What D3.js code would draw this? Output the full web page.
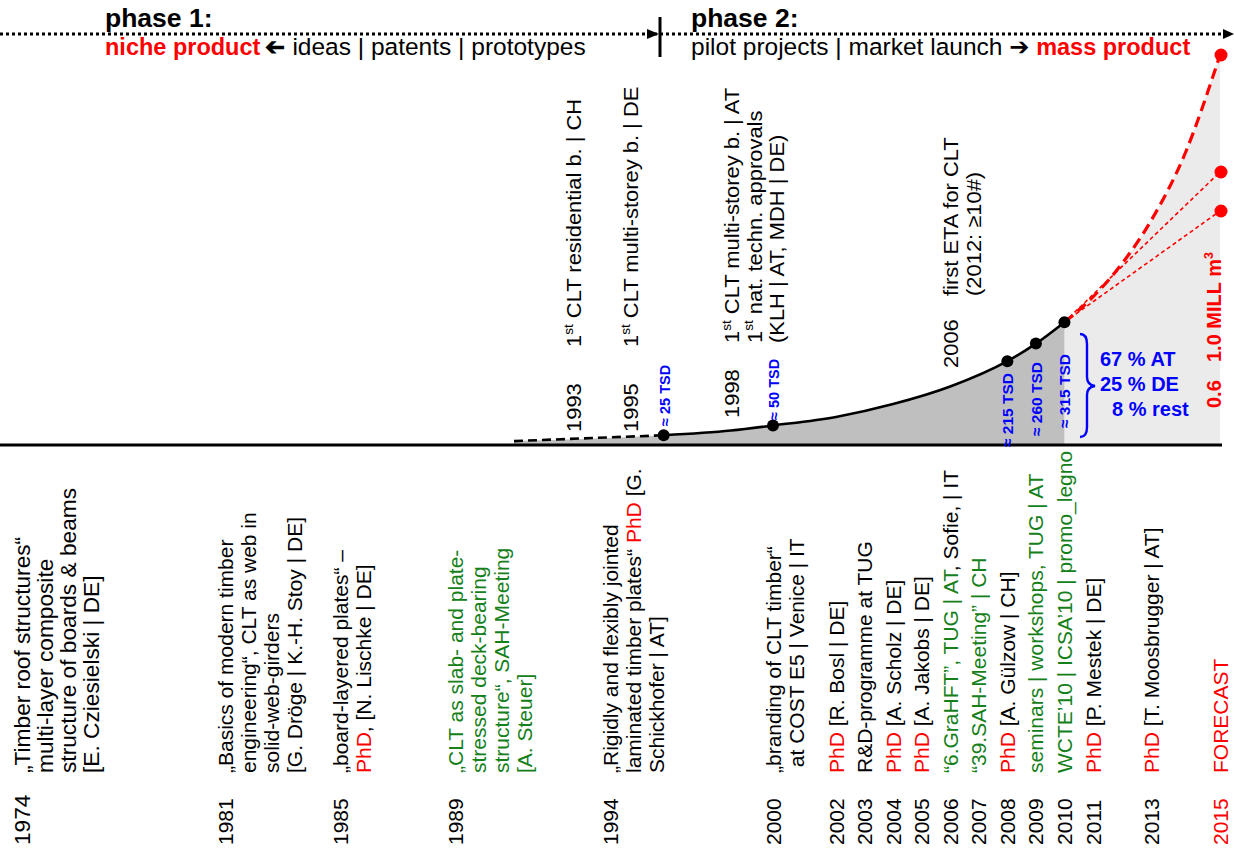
<!DOCTYPE html>
<html><head><meta charset="utf-8">
<script src="https://cdn.jsdelivr.net/npm/d3@7"></script>
<style>
body{margin:0;background:#fff}
svg{display:block}
text{font-family:"Liberation Sans",Arial,Helvetica,sans-serif}
</style>
</head><body>
<svg id="c" width="1234" height="848"></svg>
<script>
// ---------------- DATA ----------------
const productionYears = [1991, 1996, 1998, 2000, 2002, 2004, 2006, 2008, 2009, 2010];
const productionTSD   = [10, 25, 37, 50, 72, 105, 150, 215, 260, 315];
const markedYears  = [1996, 2000, 2008, 2009, 2010];
const markedTSD    = [25, 50, 215, 260, 315];
const markedLabels = ["≈ 25 TSD", "≈ 50 TSD", "≈ 215 TSD", "≈ 260 TSD", "≈ 315 TSD"];
const forecastYears = [2010, 2011, 2012, 2013, 2014, 2015];
const forecastHigh  = [315, 380, 465, 575, 750, 1000];
const forecastEndTSD = [600, 700, 1000];
const forecastLabels = ["0.6", "1.0 MILL m^3"];
const shareLabels = ["67 % AT", "25 % DE", "8 % rest"];

const phaseTitles = ["phase 1:", "phase 2:"];
const phase1Text = ["niche product", "ideas | patents | prototypes"];
const phase2Text = ["pilot projects | market launch", "mass product"];

const upperYears = [1993, 1995, 1998, 2006];
const upperLines = [
  ["1^st CLT residential b. | CH"],
  ["1^st CLT multi-storey b. | DE"],
  ["1^st CLT multi-storey b. | AT", "1^st nat. techn. approvals", "(KLH | AT, MDH | DE)"],
  ["first ETA for CLT", "(2012: ≥10#)"]
];

const bottomYears = [1974, 1981, 1985, 1989, 1994, 2000, 2002, 2003, 2004, 2005, 2006, 2007, 2008, 2009, 2010, 2011, 2013, 2015];
const bottomKinds = ["text","text","text","event","text","text","text","text","text","text","event","event","text","event","event","text","text","forecast"];
const bottomLines = [
  ["„Timber roof structures“", "multi-layer composite", "structure of boards & beams", "[E. Cziesielski | DE]"],
  ["„Basics of modern timber", "engineering“, CLT as web in", "solid-web-girders", "[G. Dröge | K.-H. Stoy | DE]"],
  ["„board-layered plates“ –", "PhD, [N. Lischke | DE]"],
  ["„CLT as slab- and plate-", "stressed deck-bearing", "structure“, SAH-Meeting", "[A. Steuer]"],
  ["„Rigidly and flexibly jointed", "laminated timber plates“ PhD [G.", "Schickhofer | AT]"],
  ["„branding of CLT timber“", "\u00a0at COST E5 | Venice | IT"],
  ["PhD [R. Bosl | DE]"],
  ["R&D-programme at TUG"],
  ["PhD [A. Scholz | DE]"],
  ["PhD [A. Jakobs | DE]"],
  ["“6.GraHFT”, TUG | AT~, Sofie, | IT"],
  ["“39.SAH-Meeting” | CH"],
  ["PhD [A. Gülzow | CH]"],
  ["seminars | workshops, TUG | AT"],
  ["WCTE’10 | ICSA’10 | promo_legno"],
  ["PhD [P. Mestek | DE]"],
  ["PhD [T. Moosbrugger | AT]"],
  ["FORECAST"]
];

// ---------------- LAYOUT ----------------
const slotYears = [1974, 1981, 1985, 1989, 1993, 1994, 1995, 1998, 2000, 2002, 2011, 2013, 2015];
const slotX     = [22,   225,  340,  455,  573,  610,  630,  731,  773,  836,  1093, 1151, 1220];
const baseY = 445;
const RED = "#ff0000", GREEN = "#15801a", BLUE = "#0000ff";
const kindColor = {text: "#000", event: GREEN, forecast: RED};
const upperLayout = [
  {yearY: 432, textY: 347}, {yearY: 432, textY: 347},
  {yearY: 418, textY: 343}, {yearY: 368, textY: 296}
];
const tsdLabelY = [426, 420, 447, 436, 428];
const tsdLabelSize = [14.5, 14.5, 15.5, 15.5, 15.5];
const UPPER_STRETCH = 1.07;
const bottomFont = d => (d === 1974 ? 22.7 : 21);

const svg = d3.select("#c");
const x = d3.scaleLinear().domain(slotYears).range(slotX);
const y = d3.scaleLinear().domain([0, 1000]).range([baseY, 55]);

function rich(sel, str, baseColor, fs) {
  const parts = str.split("~");
  let pendingDy = 0;
  parts.forEach((p, pi) => {
    const col = pi === 0 ? baseColor : "#000";
    p.split(/(PhD|\^\w+)/).forEach(tok => {
      if (!tok) return;
      const ts = sel.append("tspan");
      if (pendingDy) { ts.attr("dy", pendingDy); pendingDy = 0; }
      if (tok === "PhD") ts.attr("fill", RED).text(tok);
      else if (tok[0] === "^") {
        ts.attr("font-size", fs * 0.62).attr("dy", -fs * 0.4).attr("fill", col).text(tok.slice(1));
        pendingDy = fs * 0.4;
      } else ts.attr("fill", col).text(tok);
    });
  });
}
const vt = (bx, by, s = 1) => `translate(${bx},${by}) rotate(-90) scale(${s},1)`;

// ---------------- AREAS ----------------
const prod = productionYears.map((d, i) => ({yr: d, v: productionTSD[i]}));
const fc = forecastYears.map((d, i) => ({yr: d, v: forecastHigh[i]}));
const area = d3.area().x(d => x(d.yr)).y0(baseY).y1(d => y(d.v)).curve(d3.curveMonotoneX);
const line = d3.line().x(d => x(d.yr)).y(d => y(d.v)).curve(d3.curveMonotoneX);

svg.append("path").attr("d", area(fc)).attr("fill", "#ebebeb");
svg.append("path").attr("d", area(prod)).attr("fill", "#bfbfbf");

svg.append("line").attr("x1", 0).attr("x2", x(2015) + 2).attr("y1", baseY).attr("y2", baseY)
  .attr("stroke", "#000").attr("stroke-width", 3);

const splitYear = markedYears[0];
svg.append("path").attr("d", line(prod.filter(d => d.yr <= splitYear)))
  .attr("fill", "none").attr("stroke", "#000").attr("stroke-width", 2.6).attr("stroke-dasharray", "9,5");
svg.append("path").attr("d", line(prod.filter(d => d.yr >= splitYear)))
  .attr("fill", "none").attr("stroke", "#000").attr("stroke-width", 2.6);

const last = {yr: forecastYears[0], v: forecastHigh[0]};
forecastEndTSD.slice(0, 2).forEach(v => {
  svg.append("line").attr("x1", x(last.yr)).attr("y1", y(last.v))
    .attr("x2", x(2015)).attr("y2", y(v))
    .attr("stroke", RED).attr("stroke-width", 1.6).attr("stroke-dasharray", "4,3");
});
svg.append("path").attr("d", line(fc)).attr("fill", "none").attr("stroke", RED)
  .attr("stroke-width", 3.2).attr("stroke-dasharray", "11,6");

forecastEndTSD.forEach(v => {
  svg.append("circle").attr("cx", x(2015) + 1).attr("cy", y(v)).attr("r", 6.5).attr("fill", RED);
});

markedYears.forEach((yr, i) => {
  svg.append("circle").attr("cx", x(yr)).attr("cy", y(markedTSD[i])).attr("r", 6).attr("fill", "#000");
  svg.append("text").attr("transform", vt(x(yr) + 6, tsdLabelY[i]))
    .attr("font-size", tsdLabelSize[i]).attr("font-weight", "bold").attr("fill", BLUE)
    .text(markedLabels[i]);
});

svg.append("path")
  .attr("d", "M1080,334 Q1087,334 1087,344 L1087,377 Q1087,385 1095,386 Q1087,387 1087,395 L1087,427 Q1087,437 1080,437")
  .attr("fill", "none").attr("stroke", BLUE).attr("stroke-width", 2.4);
const shareX = [1100, 1100, 1112], shareY = [366, 391, 416];
shareLabels.forEach((s, i) => {
  svg.append("text").attr("x", shareX[i]).attr("y", shareY[i]).attr("font-size", 20)
    .attr("font-weight", "bold").attr("fill", BLUE).text(s);
});

const fcLabY = [408, 362];
forecastLabels.forEach((s, i) => {
  const t = svg.append("text").attr("transform", vt(1221, fcLabY[i]))
    .attr("font-size", 20).attr("font-weight", "bold").attr("fill", RED);
  rich(t, s, RED, 20);
});

// ---------------- UPPER LABELS ----------------
upperYears.forEach((yr, i) => {
  const bx = x(yr) + 8, L = upperLayout[i];
  svg.append("text").attr("transform", vt(bx, L.yearY, UPPER_STRETCH))
    .attr("font-size", 20.5).attr("fill", "#000").text(yr);
  upperLines[i].forEach((ln, j) => {
    const t = svg.append("text").attr("transform", vt(bx + j * 22.5, L.textY, UPPER_STRETCH))
      .attr("font-size", 20.5).attr("fill", "#000");
    rich(t, ln, "#000", 20.5);
  });
});

// ---------------- BOTTOM LABELS ----------------
bottomYears.forEach((yr, i) => {
  const bx = x(yr) + 7.5;
  const col = kindColor[bottomKinds[i]];
  const fs = bottomFont(yr);
  svg.append("text").attr("transform", vt(bx, 845))
    .attr("font-size", fs).attr("fill", bottomKinds[i] === "forecast" ? RED : "#000").text(yr);
  bottomLines[i].forEach((ln, j) => {
    const t = svg.append("text").attr("transform", vt(bx + j * 23, 773))
      .attr("font-size", fs).attr("fill", col);
    rich(t, ln, col, fs);
  });
});

// ---------------- HEADER ----------------
const hy = 34;
svg.append("line").attr("x1", 0).attr("x2", 1226).attr("y1", hy).attr("y2", hy)
  .attr("stroke", "#000").attr("stroke-width", 3).attr("stroke-dasharray", "3,3");
svg.append("path").attr("d", `M647,${hy-5} L659,${hy} L647,${hy+5} Z`).attr("fill", "#000");
svg.append("path").attr("d", `M1223,${hy-5} L1234,${hy} L1223,${hy+5} Z`).attr("fill", "#000");
svg.append("line").attr("x1", 660).attr("x2", 660).attr("y1", 17).attr("y2", 57)
  .attr("stroke", "#000").attr("stroke-width", 3);

svg.append("text").attr("x", 105).attr("y", 27).attr("font-size", 26.5).attr("font-weight", "bold").text(phaseTitles[0]);
svg.append("text").attr("x", 691).attr("y", 27).attr("font-size", 26.5).attr("font-weight", "bold").text(phaseTitles[1]);

const n1 = svg.append("text").attr("x", 105).attr("y", 55).attr("font-size", 23.5)
  .attr("font-weight", "bold").attr("fill", RED).text(phase1Text[0]);
const n1w = n1.node().getComputedTextLength();
const arrL = svg.append("text").attr("font-family", "DejaVu Sans").attr("font-size", 24)
  .attr("font-weight", "bold").attr("y", 55).text("➔");
const aw = arrL.node().getComputedTextLength();
const ax0 = 105 + n1w + 5;
arrL.attr("transform", `translate(${ax0 + aw},0) scale(-1,1)`).attr("x", 0);
svg.append("text").attr("x", ax0 + aw + 7).attr("y", 55).attr("font-size", 24.5).text(phase1Text[1]);

const p2 = svg.append("text").attr("x", 691).attr("y", 55).attr("font-size", 24.5).attr("xml:space", "preserve");
p2.append("tspan").text(phase2Text[0] + " ");
p2.append("tspan").attr("font-family", "DejaVu Sans").attr("font-weight", "bold").attr("font-size", 24).text("➔");
p2.append("tspan").text(" ");
p2.append("tspan").attr("font-weight", "bold").attr("fill", RED).attr("font-size", 23.5).text(phase2Text[1]);
</script>
</body></html>
